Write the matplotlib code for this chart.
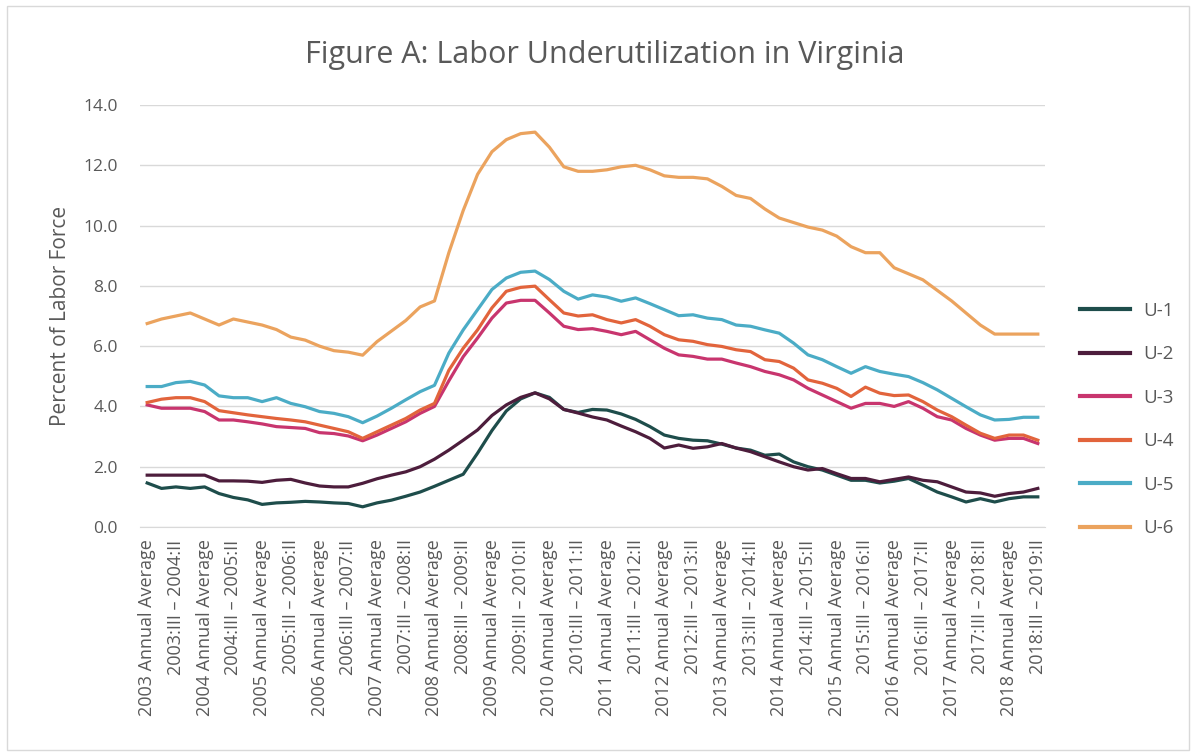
import matplotlib
matplotlib.use("Agg")
import matplotlib.pyplot as plt
from matplotlib.patches import Rectangle

# quarterly four-quarter windows, 2003 annual average through 2018:III - 2019:II
periods = []
for year in range(2003, 2019):
    periods.append("{} Annual Average".format(year))
    periods.append("{}:II \u2013 {}:I".format(year, year + 1))
    periods.append("{}:III \u2013 {}:II".format(year, year + 1))
    periods.append("{}:IV \u2013 {}:III".format(year, year + 1))
periods = periods[:63]

u1 = [1.46, 1.28, 1.33, 1.28, 1.33, 1.11, 0.98, 0.90, 0.75, 0.80,
      0.82, 0.85, 0.83, 0.80, 0.78, 0.67, 0.80, 0.89, 1.02, 1.16,
      1.35, 1.55, 1.75, 2.45, 3.20, 3.85, 4.25, 4.45, 4.30, 3.90,
      3.80, 3.90, 3.88, 3.75, 3.57, 3.33, 3.05, 2.94, 2.88, 2.86,
      2.75, 2.62, 2.55, 2.38, 2.42, 2.16, 2.00, 1.89, 1.72, 1.55,
      1.55, 1.46, 1.52, 1.61, 1.39, 1.16, 1.00, 0.83, 0.94, 0.83,
      0.94, 1.00, 1.00]
u2 = [1.72, 1.72, 1.72, 1.72, 1.72, 1.53, 1.53, 1.52, 1.48, 1.55,
      1.58, 1.46, 1.36, 1.33, 1.33, 1.45, 1.60, 1.72, 1.83, 2.00,
      2.25, 2.55, 2.88, 3.22, 3.70, 4.05, 4.30, 4.45, 4.25, 3.90,
      3.78, 3.65, 3.55, 3.35, 3.16, 2.94, 2.62, 2.72, 2.61, 2.66,
      2.77, 2.62, 2.50, 2.33, 2.16, 2.00, 1.89, 1.94, 1.77, 1.61,
      1.61, 1.50, 1.58, 1.66, 1.55, 1.50, 1.33, 1.16, 1.13, 1.02,
      1.11, 1.16, 1.28]
u3 = [4.05, 3.94, 3.94, 3.94, 3.83, 3.55, 3.55, 3.49, 3.42, 3.33,
      3.30, 3.27, 3.13, 3.10, 3.02, 2.86, 3.05, 3.27, 3.49, 3.77,
      4.00, 4.85, 5.65, 6.27, 6.93, 7.43, 7.52, 7.52, 7.10, 6.66,
      6.55, 6.58, 6.49, 6.38, 6.49, 6.21, 5.93, 5.71, 5.66, 5.57,
      5.57, 5.44, 5.32, 5.16, 5.05, 4.88, 4.60, 4.38, 4.16, 3.94,
      4.10, 4.10, 4.00, 4.16, 3.94, 3.66, 3.55, 3.27, 3.05, 2.88,
      2.94, 2.94, 2.77]
u4 = [4.13, 4.24, 4.29, 4.29, 4.16, 3.86, 3.79, 3.72, 3.66, 3.60,
      3.55, 3.49, 3.38, 3.27, 3.16, 2.94, 3.16, 3.38, 3.60, 3.88,
      4.10, 5.20, 5.93, 6.54, 7.27, 7.82, 7.95, 7.99, 7.54, 7.10,
      7.00, 7.04, 6.88, 6.77, 6.88, 6.66, 6.38, 6.21, 6.16, 6.05,
      5.99, 5.88, 5.82, 5.55, 5.49, 5.27, 4.88, 4.77, 4.60, 4.33,
      4.64, 4.44, 4.36, 4.38, 4.16, 3.88, 3.66, 3.38, 3.11, 2.94,
      3.05, 3.05, 2.88]
u5 = [4.66, 4.66, 4.79, 4.83, 4.71, 4.35, 4.29, 4.29, 4.16, 4.29,
      4.10, 3.99, 3.83, 3.77, 3.66, 3.46, 3.68, 3.94, 4.22, 4.49,
      4.70, 5.77, 6.54, 7.21, 7.88, 8.26, 8.45, 8.49, 8.21, 7.82,
      7.56, 7.70, 7.63, 7.49, 7.60, 7.41, 7.21, 7.01, 7.04, 6.93,
      6.88, 6.70, 6.66, 6.54, 6.43, 6.10, 5.71, 5.55, 5.32, 5.10,
      5.32, 5.16, 5.07, 4.99, 4.79, 4.55, 4.27, 3.99, 3.72, 3.55,
      3.57, 3.64, 3.64]
u6 = [6.75, 6.90, 7.00, 7.10, 6.90, 6.70, 6.90, 6.80, 6.70, 6.55,
      6.30, 6.20, 6.00, 5.85, 5.80, 5.70, 6.15, 6.50, 6.85, 7.30,
      7.50, 9.10, 10.50, 11.70, 12.45, 12.85, 13.05, 13.10, 12.60, 11.95,
      11.80, 11.80, 11.85, 11.95, 12.00, 11.85, 11.65, 11.60, 11.60, 11.55,
      11.30, 11.00, 10.90, 10.55, 10.25, 10.10, 9.95, 9.85, 9.65, 9.30,
      9.10, 9.10, 8.60, 8.40, 8.20, 7.85, 7.50, 7.10, 6.70, 6.40,
      6.40, 6.40, 6.40]

series_names = ["U-1", "U-2", "U-3", "U-4", "U-5", "U-6"]
series_values = [u1, u2, u3, u4, u5, u6]
series_colors = ["#1e4d4b", "#4d1d3c", "#c8356e", "#e2643c", "#4bacc6", "#eba35e"]

text_gray = "#595959"
font = "Open Sans"

fig = plt.figure(figsize=(11.96, 7.56), dpi=100)
fig.patches.append(Rectangle((0.006, 0.008), 0.988, 0.984, transform=fig.transFigure,
                             fill=False, edgecolor="#d9d9d9", linewidth=1.0))

ax = fig.add_axes([140 / 1196, 1 - 527 / 756, 905 / 1196, 422 / 756])
x = list(range(len(periods)))
for name, vals, col in zip(series_names, series_values, series_colors):
    ax.plot(x, vals, color=col, linewidth=2.3, label=name, solid_joinstyle="round")

ax.set_xlim(-0.5, len(periods) - 0.5)
ax.set_ylim(0, 14)
ax.set_yticks([0, 2, 4, 6, 8, 10, 12, 14])
ax.set_yticklabels(["{:.1f}".format(v) for v in range(0, 15, 2)],
                   fontsize=12.5, color=text_gray, family=font)
ax.set_xticks(x[::2])
ax.set_xticklabels(periods[::2], rotation=90, fontsize=13, color=text_gray, family=font)
ax.tick_params(axis="y", length=0, pad=16)
ax.tick_params(axis="x", length=0, pad=9)
ax.grid(axis="y", color="#d9d9d9", linewidth=1.0)
ax.set_axisbelow(True)
for side in ["top", "right", "left"]:
    ax.spines[side].set_visible(False)
ax.spines["bottom"].set_color("#d9d9d9")

ax.set_ylabel("Percent of Labor Force", fontsize=15, color=text_gray, family=font, labelpad=9)

fig.text(605 / 1196, 1 - 55 / 756, "Figure A: Labor Underutilization in Virginia",
         ha="center", va="center", fontsize=22, color=text_gray, family=font)

leg = ax.legend(loc="center left", bbox_to_anchor=(1.02, 0.255), frameon=False,
                prop={"family": font, "size": 13.5}, handlelength=2.67,
                labelspacing=1.36, handletextpad=0.7)
for t in leg.get_texts():
    t.set_color(text_gray)
for line in leg.get_lines():
    line.set_linewidth(3)

fig.savefig("out.png", dpi=100)
